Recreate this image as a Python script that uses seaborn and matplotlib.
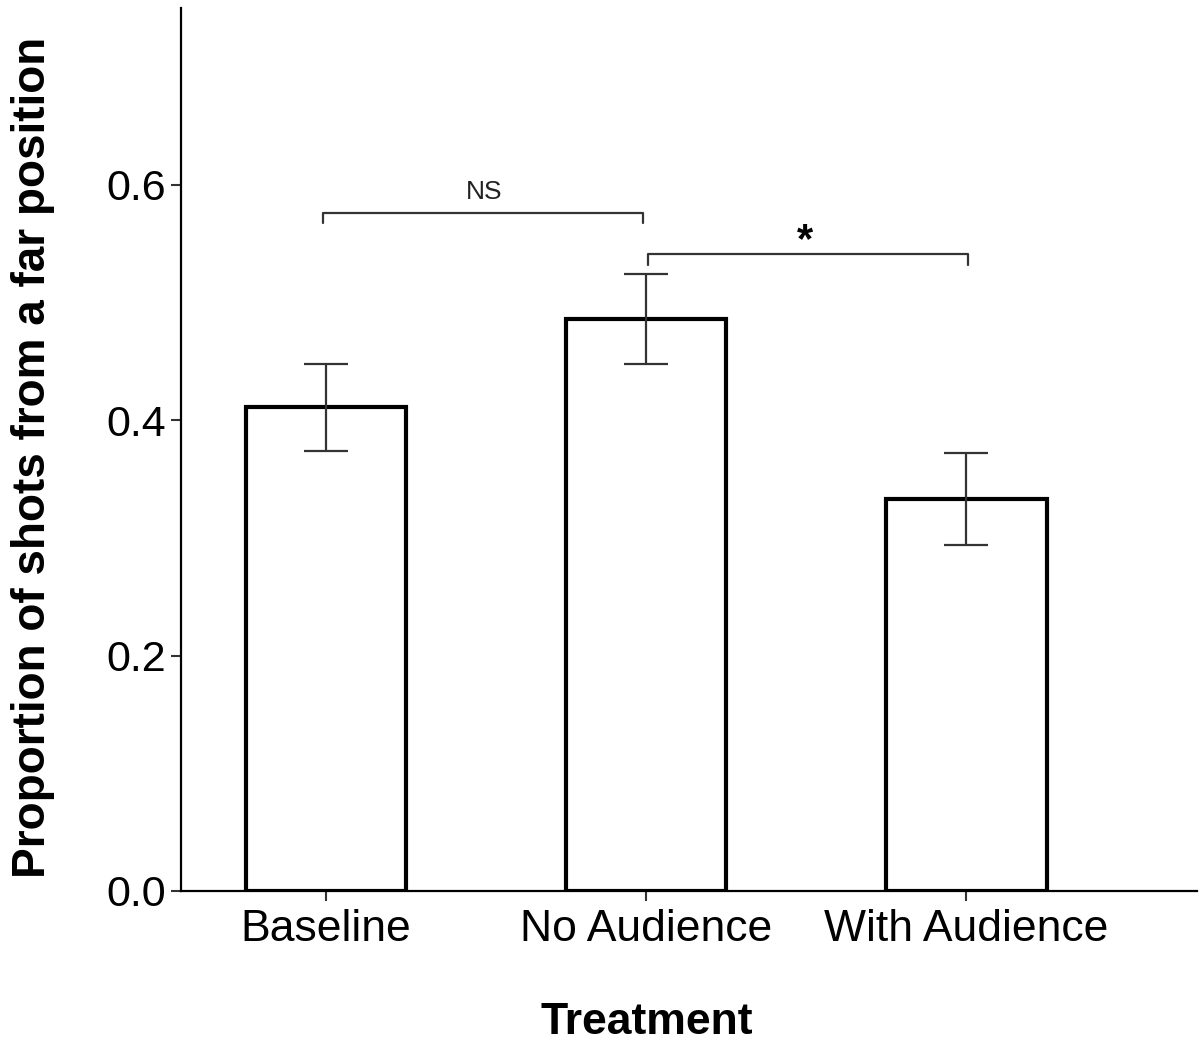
import matplotlib
matplotlib.use("Agg")
import matplotlib.pyplot as plt
import seaborn as sns
import pandas as pd

categories = ["Baseline", "No Audience", "With Audience"]
means = [0.411, 0.486, 0.333]
errors = [0.037, 0.038, 0.039]
yticks = [0.0, 0.2, 0.4, 0.6]
ytick_labels = ["0.0", "0.2", "0.4", "0.6"]
brackets = [(0, 1, 0.576, "NS"), (1, 2, 0.541, "*")]

sns.set_theme(style="ticks")
plt.rcParams["font.family"] = ["Liberation Sans", "DejaVu Sans"]

df = pd.DataFrame({"Treatment": categories, "Proportion": means})

fig = plt.figure(figsize=(12, 10.45), dpi=100)
W, H = 1200, 1045
left, right, top, bottom = 181, 1197, 8, 891
ax = fig.add_axes([left / W, (H - bottom) / H, (right - left) / W, (bottom - top) / H])

sns.barplot(data=df, x="Treatment", y="Proportion", color="white",
            edgecolor="black", linewidth=3, width=0.5, errorbar=None, ax=ax)
ax.errorbar(range(len(categories)), means, yerr=errors, fmt="none",
            ecolor="#333333", elinewidth=1.6, capsize=16, capthick=1.6, zorder=5)

for x0, x1, y, lab in brackets:
    x0p = x0 - 0.01 if x0 == 0 else x0 + 0.005
    x1p = x1 - 0.01 if lab == "NS" else x1 + 0.005
    ax.plot([x0p, x0p, x1p, x1p], [y - 0.009, y, y, y - 0.009],
            color="#333333", lw=1.6, clip_on=False)
    if lab == "NS":
        ax.text((x0 + x1) / 2 - 0.005, y + 0.018, lab, ha="center", va="center",
                fontsize=19, color="#222222")
    else:
        ax.text((x0 + x1) / 2 - 0.005, y + 0.011, lab, ha="center", va="center",
                fontsize=30, fontweight="bold", color="black")

ax.set_xlim(-0.453, 2.72)
ax.set_ylim(0, 0.75)
ax.set_yticks(yticks)
ax.set_yticklabels(ytick_labels)
ax.tick_params(axis="both", labelsize=32, colors="#333333", labelcolor="black",
               length=7, width=1.5, pad=6)
ax.tick_params(axis="y", labelsize=31, pad=4)
for s in ["top", "right"]:
    ax.spines[s].set_visible(False)
for s in ["left", "bottom"]:
    ax.spines[s].set_linewidth(1.6)
    ax.spines[s].set_color("black")

ax.set_xlabel("Treatment", fontsize=32, fontweight="bold", color="black", va="center")
ax.xaxis.set_label_coords((647 - left) / (right - left), -(1022 - bottom) / (bottom - top))
ax.set_ylabel("Proportion of shots from a far position", fontsize=33,
              fontweight="bold", color="black", va="center")
ax.yaxis.set_label_coords(-(left - 33) / (right - left), (bottom - 457) / (bottom - top))

fig.savefig("out.png", dpi=100)
